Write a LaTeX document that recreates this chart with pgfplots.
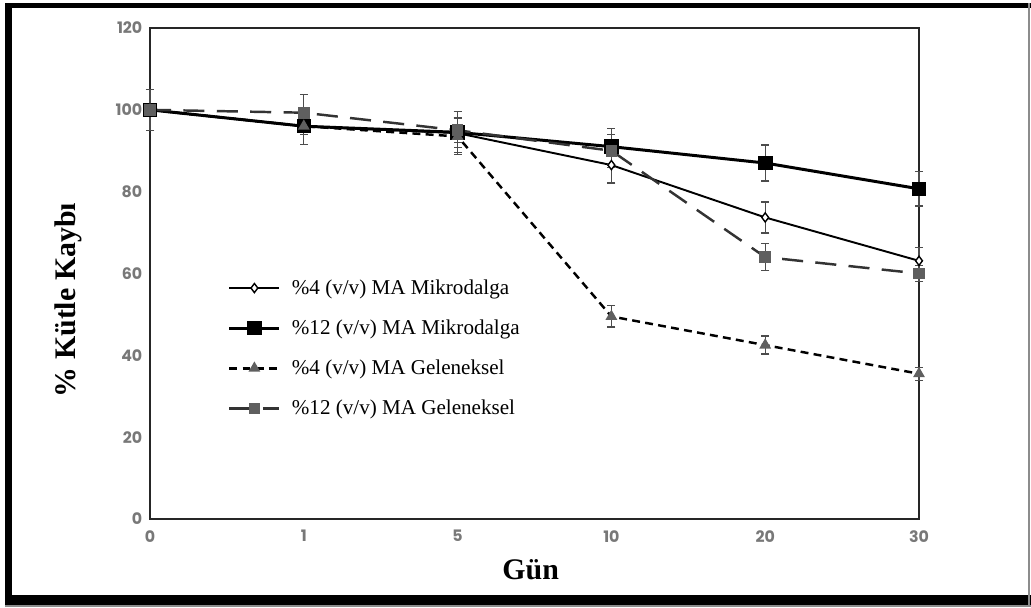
\documentclass[border=0pt]{standalone}
\usepackage{pgfplots}
\pgfplotsset{compat=1.18}
\usepackage{pgfplotstable}
\usepackage{fontspec}
\setmainfont{Liberation Serif}
\newfontfamily\tickfont{Poppins}
\definecolor{ticktext}{RGB}{120,120,120}
\definecolor{markgray}{RGB}{95,95,95}

% x  y  err
\pgfplotstableread{
x y e
0 100 5
1 96 4.5
2 94.3 3.5
3 86.5 4.4
4 73.7 3.8
5 63.1 3.3
}\mikroA
\pgfplotstableread{
x y e
0 100 5
1 96 4.5
2 94.5 5
3 91 4.5
4 87 4.4
5 80.7 4.2
}\mikroB
\pgfplotstableread{
x y e
0 100 1
1 96 2
2 93.5 4.5
3 49.5 2.6
4 42.5 2.2
5 35.5 1.6
}\gelenA
\pgfplotstableread{
x y e
0 100 1
1 99.3 4.5
2 95 3
3 90 4
4 64 3.3
5 60 2
}\gelenB

\begin{document}
\begin{tikzpicture}
\useasboundingbox (0,0) rectangle (20.62cm,12.14cm);
% outer frame
\fill[black] (0.10cm,0.04cm) rectangle (0.24cm,12.08cm);
\fill[black] (0.10cm,11.98cm) rectangle (20.62cm,12.08cm);
\fill[black] (0.10cm,0.04cm) rectangle (20.62cm,0.24cm);
\fill[black!45] (0.10cm,0.0cm) rectangle (20.62cm,0.04cm);
\draw[black!45, line width=0.04cm] (20.58cm,0.04cm) -- (20.58cm,12.08cm);
\begin{axis}[
    at={(3.0cm,1.76cm)},
    anchor=south west,
    scale only axis,
    width=15.38cm,
    height=9.82cm,
    xmin=0, xmax=5,
    ymin=0, ymax=120,
    xtick={0,1,2,3,4,5},
    xticklabels={0,1,5,10,20,30},
    ytick={0,20,40,60,80,100,120},
    major tick length=0pt,
    clip=false,
    axis line style={draw=black!85, line width=1.4pt},
    /pgf/number format/assume math mode=true,
    tick label style={font=\tickfont\bfseries\fontsize{9}{10}\selectfont, text=ticktext},
    xticklabel style={yshift=-0.10cm},
    yticklabel style={xshift=-0.03cm},
    xlabel={Gün},
    ylabel={\% Kütle Kaybı},
    xlabel style={at={(axis description cs:0.495,-0.104)}, anchor=center, font=\bfseries\fontsize{17}{20}\selectfont},
    ylabel style={at={(axis description cs:-0.1066,0.446)}, anchor=center, font=\bfseries\fontsize{17}{20}\selectfont},
    legend cell align=left,
    legend style={at={(rel axis cs:0.094,0.503)}, anchor=north west, draw=none, fill=none,
        font=\fontsize{12}{14}\selectfont, row sep=9pt,
        /tikz/every odd column/.append style={column sep=0.15cm}},
    legend image code/.code={\draw[mark repeat=2,mark phase=2,#1] plot coordinates {(0cm,0cm) (0.5cm,0cm) (1.0cm,0cm)};},
    error bars/error bar style={line width=0.7pt, draw=black!70, solid},
    error bars/error mark options={rotate=90, mark size=2.3pt, line width=0.7pt, draw=black!70, solid},
]
\addplot[black, line width=1.1pt, mark=diamond*, mark size=2.6pt,
    mark options={solid, fill=white, draw=black, line width=0.8pt},
    error bars/.cd, y dir=both, y explicit]
    table[x=x, y=y, y error=e] {\mikroA};
\addlegendentry{\%4 (v/v) MA Mikrodalga}
\addplot[black, line width=1.7pt, mark=square*, mark size=3.3pt,
    mark options={solid, fill=black},
    error bars/.cd, y dir=both, y explicit]
    table[x=x, y=y, y error=e] {\mikroB};
\addlegendentry{\%12 (v/v) MA Mikrodalga}
\addplot[black, line width=1.4pt, dash pattern=on 4.5pt off 3pt, mark=triangle*, mark size=2.5pt,
    mark options={solid, fill=markgray, draw=markgray},
    error bars/.cd, y dir=both, y explicit]
    table[x=x, y=y, y error=e] {\gelenA};
\addlegendentry{\%4 (v/v) MA Geleneksel}
\addplot[black!80, line width=1.4pt, dash pattern=on 12pt off 7pt, mark=square*, mark size=2.6pt,
    mark options={solid, fill=markgray, draw=markgray},
    error bars/.cd, y dir=both, y explicit]
    table[x=x, y=y, y error=e] {\gelenB};
\addlegendentry{\%12 (v/v) MA Geleneksel}
\end{axis}
\end{tikzpicture}
\end{document}
